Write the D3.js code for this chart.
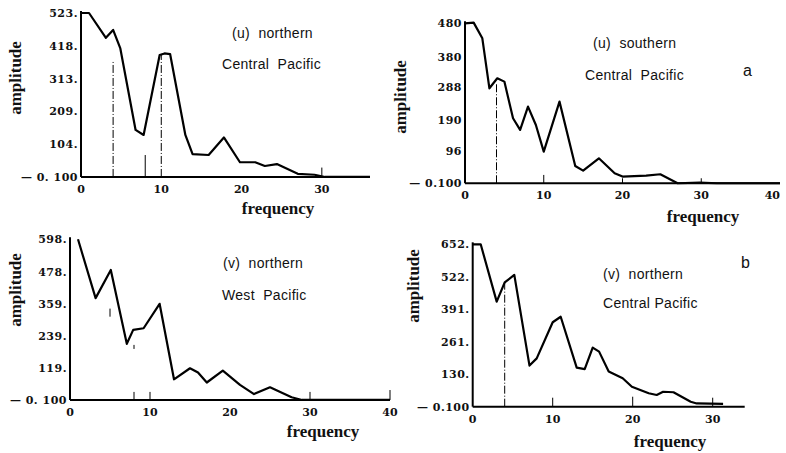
<!DOCTYPE html>
<html>
<head>
<meta charset="utf-8">
<script src="https://cdn.jsdelivr.net/npm/d3@7/dist/d3.min.js"></script>
<style>
  body { margin: 0; background: #fff; }
  svg text { fill: #111; white-space: pre; }
  .tick-lbl { font-family: "DejaVu Serif", serif; font-weight: bold; font-size: 11px; }
  .ylbl { letter-spacing: 0.5px; }
  .ax-title { font-family: "Liberation Serif", serif; font-weight: bold; font-size: 17px; }
  .note { font-family: "Liberation Sans", Arial, sans-serif; font-size: 14px; letter-spacing: 0.3px; }
</style>
</head>
<body>
<svg id="chart" width="786" height="453"></svg>
<script>
// x ticks shared by the panels
var xTicks = [0, 10, 20, 30, 40];

// (u) northern Central Pacific
var freqA = [0, 1, 3.1, 4, 4.9, 6.8, 7.8, 9.8, 10.4, 11.1, 13, 13.9, 15.9, 17.8, 19.8, 21.7, 22.9, 24.4, 27, 29.1, 30.4, 36];
var ampA  = [523, 523, 444, 469, 410, 150, 134, 389, 394, 392, 134, 73, 70, 126, 47, 47, 35, 41, 10, 7, 0, 0];
var yTickA = [523, 418, 313, 209, 104, -0.1];
var yLblA  = ["523.", "418.", "313.", "209.", "104.", "\u2014 0. 100"];
var markA  = [[4, 0, 370], [8, 0, 70], [10, 0, 390], [30, 0, 30]];

// (u) southern Central Pacific
var freqB = [0, 1.1, 2.2, 3.1, 4.1, 5, 6.1, 7, 8, 9, 10, 12, 14, 15, 17, 19, 20, 23, 24.8, 27, 29.8, 32, 40];
var ampB  = [480, 482, 435, 285, 315, 305, 195, 160, 230, 175, 95, 245, 52, 38, 75, 30, 20, 23, 27, 0, 2, 0, 0];
var yTickB = [480, 380, 288, 190, 96, -0.1];
var yLblB  = ["480", "380", "288", "190", "96", "\u2014 0.100"];
var markB  = [[4, 0, 300], [10, 0, 25], [20, 0, 15], [30, 0, 15]];

// (v) northern West Pacific
var freqC = [1, 3.2, 5.1, 7.1, 7.9, 9.2, 11.2, 13, 15, 16, 17.1, 19.1, 21.25, 23, 25, 27.7, 29, 40];
var ampC  = [598, 379, 484, 209, 261, 267, 358, 77, 118, 102, 65, 109, 56, 22, 47, 10, 0, 0];
var yTickC = [598, 478, 359, 239, 119, -0.1];
var yLblC  = ["598.", "478.", "359.", "239.", "119.", "\u2014 0. 100"];
var markC  = [[0, 0, 598], [5, 310, 340], [8, 190, 205], [8, 0, 30], [10, 0, 30], [30, 0, 30], [40, 0, 37]];

// (v) northern Central Pacific
var freqD = [0, 1, 3, 4, 5.2, 7.1, 8, 10, 11, 13, 14, 15, 15.8, 17, 18.75, 19.9, 22, 23, 23.8, 25.1, 27.25, 28, 31.3];
var ampD  = [652, 652, 422, 499, 529, 165, 194, 339, 361, 157, 151, 237, 221, 141, 114, 80, 54, 47, 60, 58, 20, 13, 11];
var yTickD = [652, 522, 391, 261, 130, -0.1];
var yLblD  = ["652.", "522.", "391.", "261.", "130.", "\u2014 0.100"];
var markD  = [[4, 0, 499], [10, 0, 36], [20, 0, 40], [30, 0, 36]];

var svg = d3.select('#chart');

function panel(cfg) {
  var x = d3.scaleLinear().domain([0, cfg.xMax]).range([cfg.x0, cfg.x1]);
  var y = d3.scaleLinear().domain([-0.1, cfg.yMax]).range([cfg.y0, cfg.y1]);
  var g = svg.append('g');

  // axes
  g.append('line')
    .attr('x1', x(0)).attr('x2', x(0))
    .attr('y1', y(-0.1)).attr('y2', y(cfg.yMax) - 2)
    .attr('stroke', '#000').attr('stroke-width', 2);
  g.append('line')
    .attr('x1', x(0)).attr('x2', x(cfg.xMax))
    .attr('y1', y(-0.1)).attr('y2', y(-0.1))
    .attr('stroke', '#000').attr('stroke-width', 2);

  // y tick labels
  g.selectAll('.yl')
    .data(cfg.yTicks)
    .enter()
    .append('text')
    .attr('class', 'tick-lbl ylbl')
    .attr('x', x(0) - 3)
    .attr('y', function(d){return y(d) + 4;})
    .attr('text-anchor', 'end')
    .text(function(d, i){return cfg.yLbls[i];});

  // x tick labels (the last one is kept inside the page edge)
  g.selectAll('.xl')
    .data(xTicks.filter(function(d){return d <= cfg.xMax + 1;}))
    .enter()
    .append('text')
    .attr('class', 'tick-lbl')
    .attr('x', function(d){return Math.min(x(d), 785);})
    .attr('y', y(-0.1) + 16)
    .attr('text-anchor', function(d){return x(d) + 8 > 785 ? 'end' : 'middle';})
    .text(function(d){return d;});

  // vertical marks
  g.selectAll('.mk')
    .data(cfg.marks)
    .enter()
    .append('line')
    .attr('x1', function(d){return x(d[0]);})
    .attr('x2', function(d){return x(d[0]);})
    .attr('y1', function(d){return y(d[1]);})
    .attr('y2', function(d){return y(d[2]);})
    .attr('stroke', '#000')
    .attr('stroke-width', 1)
    .attr('stroke-dasharray', function(d){return d[2] - d[1] > 100 ? '8,2,1,2' : null;});

  // spectrum curve
  var line = d3.line()
    .x(function(d){return x(d[0]);})
    .y(function(d){return y(d[1]);});
  g.append('path')
    .datum(cfg.freq.map(function(f, i){return [f, cfg.amp[i]];}))
    .attr('d', line)
    .attr('fill', 'none')
    .attr('stroke', '#000')
    .attr('stroke-width', 2.2)
    .attr('stroke-linejoin', 'round');

  // titles
  g.append('text')
    .attr('class', 'ax-title')
    .attr('x', cfg.fx).attr('y', cfg.fy)
    .attr('text-anchor', 'middle')
    .text('frequency');
  g.append('text')
    .attr('class', 'ax-title')
    .attr('transform', 'translate(' + cfg.ax + ',' + cfg.ay + ') rotate(-90)')
    .attr('text-anchor', 'middle')
    .text('amplitude');

  cfg.notes.forEach(function(n){
    g.append('text')
      .attr('class', 'note')
      .attr('x', n[1]).attr('y', n[2])
      .style('font-size', n[3] || null)
      .text(n[0]);
  });
}

panel({x0: 81, x1: 370, xMax: 36, y0: 177, y1: 13, yMax: 523,
  freq: freqA, amp: ampA, yTicks: yTickA, yLbls: yLblA, marks: markA,
  fx: 278, fy: 214, ax: 21, ay: 78,
  notes: [['(u)  northern', 232, 38], ['Central  Pacific', 222, 69]]});

panel({x0: 465, x1: 780, xMax: 40, y0: 183.3, y1: 23.3, yMax: 480,
  freq: freqB, amp: ampB, yTicks: yTickB, yLbls: yLblB, marks: markB,
  fx: 703, fy: 222, ax: 406, ay: 97,
  notes: [['(u)  southern', 593, 48], ['Central  Pacific', 585, 80], ['a', 743, 76, '16px']]});

panel({x0: 70, x1: 390, xMax: 40, y0: 400, y1: 239.3, yMax: 598,
  freq: freqC, amp: ampC, yTicks: yTickC, yLbls: yLblC, marks: markC,
  fx: 323, fy: 437, ax: 21, ay: 290,
  notes: [['(v)  northern', 223, 268], ['West  Pacific', 222, 300]]});

panel({x0: 472.7, x1: 744.7, xMax: 34, y0: 406.7, y1: 244.3, yMax: 652,
  freq: freqD, amp: ampD, yTicks: yTickD, yLbls: yLblD, marks: markD,
  fx: 670, fy: 447, ax: 419, ay: 286,
  notes: [['(v)  northern', 603, 279], ['Central Pacific', 603, 308], ['b', 741, 268, '16px']]});
</script>
</body>
</html>
